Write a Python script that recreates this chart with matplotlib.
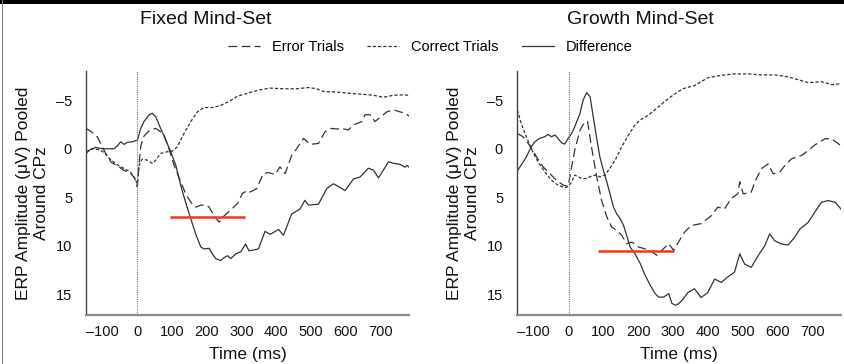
import matplotlib
matplotlib.use("Agg")
import matplotlib.pyplot as plt
from matplotlib.lines import Line2D
from matplotlib.patches import Rectangle

plt.rcParams['font.family'] = ['Liberation Sans', 'DejaVu Sans']

# ---------------- data ----------------
panel_titles = ["Fixed Mind-Set", "Growth Mind-Set"]
series_labels = ["Error Trials", "Correct Trials", "Difference"]

x_ticks = [-100, 0, 100, 200, 300, 400, 500, 600, 700]
x_tick_labels = ["–100", "0", "100", "200", "300", "400", "500", "600", "700"]
y_ticks = [-5, 0, 5, 10, 15]
y_tick_labels = ["–5", "0", "5", "10", "15"]

# Fixed mind-set
fixed_diff_t = [-148, -135, -120, -101, -67, -58, -48, -38, -29, -14, 0, 10, 19, 34, 43, 53, 67, 82,
                96, 111, 125, 139, 154, 168, 183, 192, 207, 216, 226, 240, 250, 260, 269, 284, 298,
                312, 322, 337, 349, 368, 383, 407, 421, 445, 469, 483, 493, 522, 546, 565, 580, 599,
                623, 642, 666, 681, 695, 709, 724, 738, 757, 772, 777, 786]
fixed_diff_v = [0.48, 0.07, -0.14, 0.0, 0.0, -0.28, -0.72, -0.45, -0.66, -0.72, -0.9, -2.1, -2.8,
                -3.5, -3.65, -3.3, -2.1, -0.9, 0.3, 1.7, 3.76, 5.5, 7.2, 8.76, 10.1, 10.3, 10.24,
                10.8, 11.3, 11.5, 11.2, 11.0, 11.3, 10.8, 10.6, 9.8, 10.5, 10.4, 10.3, 8.5, 8.8,
                8.3, 8.9, 6.7, 6.2, 5.3, 5.8, 5.7, 4.1, 3.6, 3.9, 4.3, 3.1, 2.9, 2.0, 2.2, 3.0,
                2.2, 1.34, 1.5, 1.6, 1.9, 1.7, 2.0]

fixed_err_t = [-148, -130, -115, -91, -75, -55, -40, -20, -8, -2, 0, 5, 10, 19, 35, 53, 65, 77, 91,
               106, 125, 139, 154, 168, 183, 197, 207, 221, 236, 250, 269, 288, 303, 317, 325, 344,
               363, 378, 397, 411, 426, 445, 459, 479, 498, 522, 541, 556, 575, 589, 608, 623,
               647, 656, 671, 685, 695, 709, 719, 738, 757, 772, 786]
fixed_err_v = [-2.1, -1.7, -1.2, 0.5, 1.4, 1.8, 2.2, 2.5, 3.0, 3.8, 3.9, 1.5, -0.3, -1.3, -1.9,
               -2.1, -1.8, -1.4, 0.0, 1.7, 3.4, 4.6, 5.5, 6.0, 5.8, 5.8, 6.0, 6.9, 7.55, 6.9, 6.3,
               5.65, 4.6, 4.3, 4.45, 4.1, 2.55, 2.45, 2.65, 1.86, 2.55, 0.66, 0.0, -1.07, -0.45,
               -0.55, -1.76, -2.1, -2.03, -2.1, -1.93, -2.45, -2.8, -3.5, -3.5, -2.8, -3.1, -3.5,
               -3.8, -4.0, -3.8, -3.65, -3.3]

fixed_cor_t = [-148, -130, -110, -95, -80, -60, -40, -20, -8, 0, 5, 14, 29, 43, 53, 67, 87, 101,
               115, 135, 154, 173, 192, 216, 240, 264, 288, 317, 325, 354, 383, 421, 459, 493,
               517, 536, 575, 613, 652, 681, 709, 738, 767, 786]
fixed_cor_v = [0.3, 0.0, 0.1, 0.4, 1.0, 1.6, 2.0, 2.4, 3.0, 3.6, 1.7, 1.07, 1.17, 1.5, 1.17, 0.48,
               0.3, 0.24, -0.2, -1.6, -2.8, -3.8, -4.24, -4.24, -4.45, -4.86, -5.4, -5.7, -5.8,
               -6.07, -6.24, -6.17, -6.17, -6.3, -6.17, -5.9, -5.83, -5.7, -5.6, -5.5, -5.3, -5.5,
               -5.55, -5.5]

# Growth mind-set
growth_diff_t = [-147, -136, -121, -107, -97, -83, -68, -59, -49, -39, -30, -20, -11, -1, 9, 18,
                 33, 42, 52, 62, 71, 81, 90, 100, 110, 119, 129, 138, 148, 158, 167, 177, 191,
                 206, 220, 235, 249, 259, 273, 288, 297, 307, 316, 326, 343, 362, 381, 400, 420,
                 439, 457, 477, 492, 506, 525, 545, 564, 578, 592, 612, 631, 650, 665, 689, 708,
                 727, 746, 766, 787]
growth_diff_v = [2.27, 1.68, 0.82, -0.2, -0.72, -1.07, -1.24, -1.48, -1.24, -1.41, -1.07, -0.62,
                 -0.48, -1.07, -1.58, -2.27, -3.64, -5.0, -5.77, -5.36, -3.3, -1.07, 0.82, 2.2,
                 3.4, 4.6, 5.98, 6.67, 7.18, 7.87, 8.9, 10.1, 10.8, 11.8, 13.0, 14.05, 14.9,
                 15.26, 15.26, 14.9, 15.9, 16.1, 15.95, 15.6, 14.8, 14.4, 15.3, 14.8, 13.4, 13.75,
                 13.2, 12.7, 10.8, 11.86, 12.2, 11.0, 9.97, 8.76, 9.45, 9.8, 9.9, 9.1, 8.25, 7.56,
                 6.5, 5.5, 5.33, 5.5, 6.36]

growth_err_t = [-147, -131, -112, -92, -73, -54, -35, -15, -1, 9, 18, 33, 47, 55, 66, 81, 95, 110,
                124, 138, 153, 167, 182, 201, 220, 239, 254, 268, 288, 302, 316, 333, 352, 381,
                410, 429, 448, 467, 487, 492, 502, 525, 535, 554, 574, 588, 607, 622, 641, 670,
                689, 708, 737, 756, 776, 787]
growth_err_v = [-1.58, -1.24, -0.38, 0.82, 1.86, 2.54, 3.23, 3.75, 3.85, 1.86, 0.14, -1.92, -2.78,
                -2.78, -0.2, 2.89, 5.3, 7.0, 8.04, 8.4, 8.9, 9.76, 9.6, 10.1, 10.3, 10.6, 10.96,
                10.45, 9.76, 10.45, 9.6, 8.6, 7.9, 7.7, 6.9, 6.0, 6.2, 5.15, 4.6, 3.4, 4.64, 4.47,
                3.44, 2.06, 1.55, 2.58, 2.4, 1.72, 1.03, 0.69, 0.17, -0.4, -1.03, -1.03, -0.5,
                -0.17]

growth_cor_t = [-147, -136, -121, -107, -88, -68, -49, -30, -11, -1, 9, 18, 28, 38, 52, 66, 81, 90,
                105, 119, 134, 153, 172, 191, 206, 230, 259, 288, 316, 331, 362, 400, 439, 477,
                516, 554, 592, 631, 670, 689, 727, 756, 787]
growth_cor_v = [-4.0, -2.6, -1.24, 0.0, 1.34, 2.37, 3.23, 3.75, 4.0, 3.9, 3.4, 2.7, 2.9, 3.06,
                3.06, 2.8, 2.7, 2.9, 2.7, 2.0, 1.17, -0.2, -1.4, -2.44, -2.96, -3.47, -4.33, -5.2,
                -5.9, -6.2, -6.5, -7.3, -7.56, -7.7, -7.7, -7.6, -7.6, -7.4, -7.0, -6.8, -6.9,
                -6.6, -6.7]

# analysis window and its mean amplitude (red bar)
fixed_window = [94, 310]
fixed_window_level = 7.0
growth_window = [86, 302]
growth_window_level = 10.5

panels = [
    dict(err=(fixed_err_t, fixed_err_v), cor=(fixed_cor_t, fixed_cor_v),
         diff=(fixed_diff_t, fixed_diff_v), win=fixed_window, lvl=fixed_window_level),
    dict(err=(growth_err_t, growth_err_v), cor=(growth_cor_t, growth_cor_v),
         diff=(growth_diff_t, growth_diff_v), win=growth_window, lvl=growth_window_level),
]

# ---------------- styling ----------------
line_col = "#333333"
err_style = dict(color=line_col, lw=0.9, linestyle=(0, (7, 3.5)))
cor_style = dict(color=line_col, lw=0.9, linestyle=(0, (2.6, 1.6)))
diff_style = dict(color=line_col, lw=0.9, linestyle="-")

fig = plt.figure(figsize=(8.45, 3.64), dpi=100)
W, H = 845.0, 364.0
axes_px = [(86, 71, 409, 315), (517, 71, 841, 315)]
title_x = [206, 640]

for i, (p, box) in enumerate(zip(panels, axes_px)):
    x0, y0, x1, y1 = box
    ax = fig.add_axes([x0 / W, 1 - y1 / H, (x1 - x0) / W, (y1 - y0) / H])
    ax.plot(*p["err"], **err_style)
    ax.plot(*p["cor"], **cor_style)
    ax.plot(*p["diff"], **diff_style)
    ax.axvline(0, color="#777777", lw=0.8, linestyle=(0, (1, 1)))
    ax.plot(p["win"], [p["lvl"], p["lvl"]], color="#f5341c", lw=1.8, solid_capstyle="butt")

    ax.set_xlim(-148, 783)
    ax.set_ylim(17.1, -8.0)
    ax.set_xticks(x_ticks)
    ax.set_xticklabels(x_tick_labels)
    ax.set_yticks(y_ticks)
    ax.set_yticklabels(y_tick_labels)
    ax.tick_params(length=0, labelsize=10.5, colors="#111111")
    ax.tick_params(axis="x", pad=7)
    ax.tick_params(axis="y", pad=10)
    for s in ["top", "right"]:
        ax.spines[s].set_visible(False)
    ax.spines["left"].set_color("#444444")
    ax.spines["left"].set_linewidth(1.0)
    ax.spines["bottom"].set_color("#8a8a8a")
    ax.spines["bottom"].set_linewidth(1.6)
    ax.set_xlabel("Time (ms)", fontsize=12.5, labelpad=6, color="#111111")
    ax.set_ylabel("ERP Amplitude (μV) Pooled\nAround CPz", fontsize=12.5, labelpad=5,
                  color="#111111", linespacing=1.25)
    fig.text(title_x[i] / W, 1 - 19 / H, panel_titles[i], ha="center", va="center",
             fontsize=14, color="#111111")

handles = [Line2D([], [], **err_style), Line2D([], [], **cor_style), Line2D([], [], **diff_style)]
fig.legend(handles, series_labels, ncol=3, loc="center", bbox_to_anchor=(430 / W, 1 - 47 / H),
           frameon=False, fontsize=10.5, handlelength=2.2, handletextpad=0.8, columnspacing=1.6,
           borderpad=0)

# page frame: dark band along the top and a grey rule on the left
fig.patches.append(Rectangle((0, 1 - 3.5 / H), 1, 3.5 / H, transform=fig.transFigure,
                             facecolor="black", edgecolor="none"))
fig.patches.append(Rectangle((1.6 / W, 0), 1.6 / W, 1, transform=fig.transFigure,
                             facecolor="#7a7a7a", edgecolor="none"))

fig.savefig("out.png", dpi=100)
